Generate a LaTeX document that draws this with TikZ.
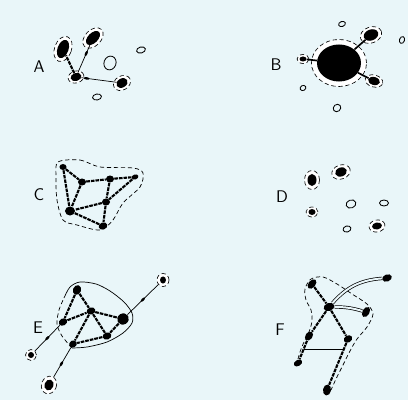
\documentclass[tikz,border=0pt]{standalone}
\usepackage{tikz}
\usetikzlibrary{shapes.geometric,decorations.markings}
\definecolor{bgcol}{RGB}{233,246,249}

\begin{document}
\begin{tikzpicture}[x=0.025cm, y=-0.025cm,
  sz/.style 2 args={minimum width=#1*0.25mm, minimum height=#2*0.25mm},
  cell/.style={ellipse, fill=black, inner sep=0pt},
  halo/.style={ellipse, draw, densely dashed, line width=0.45pt, fill=white, inner sep=0pt},
  ring/.style={ellipse, draw, line width=0.6pt, inner sep=0pt},
  chain/.style={line width=1.5pt, dash pattern=on 2.6pt off 0.7pt},
  link/.style={line width=0.5pt},
  bead/.style={postaction={decorate}, decoration={markings,
    mark=at position #1 with {\fill (0,0) ellipse (2pt and 0.9pt);}}},
  dbl/.style={line width=0.5pt, double=bgcol, double distance=1.4pt},
  hull/.style={densely dashed, line width=0.5pt},
  lbl/.style={font=\sffamily\large}]
\fill[bgcol] (0,0) rectangle (408,400);
\useasboundingbox (0,0) rectangle (408,400);

% A
\node[lbl] (la) at (39,67) {A};
\node[halo, sz={17}{26}, rotate=-20] (a1o) at (63,49) {};
\node[halo, sz={24}{16}, rotate=45] (a2o) at (93,38) {};
\node[halo, sz={16}{12}, rotate=15] (a3o) at (76,77) {};
\node[halo, sz={18}{14}, rotate=30] (a4o) at (122,83) {};
\node[cell, sz={11}{19}, rotate=-20] (a1) at (63,49) {};
\node[cell, sz={17}{10}, rotate=45] (a2) at (93,38) {};
\node[cell, sz={11}{8}, rotate=15] (a3) at (76,77) {};
\node[cell, sz={12}{9}, rotate=30] (a4) at (122,83) {};
\node[ring, sz={12}{14}, rotate=-20] (a5) at (110,63) {};
\node[ring, sz={9}{6}, rotate=15] (a6) at (141,50) {};
\node[ring, sz={9}{6}, rotate=10] (a7) at (97,97) {};
\draw[chain] (a3) -- (a1);
\draw[link, bead=0.7] (a3) -- (a2);
\draw[link, bead=0.15] (a3) -- (a4);

% B
\node[lbl] (lb) at (276,65) {B};
\node[halo, sz={55}{47}] (b1o) at (339,63) {};
\node[halo, sz={22}{16}, rotate=20] (b2o) at (371,35) {};
\node[halo, sz={18}{12}, rotate=-15] (b3o) at (374,81) {};
\node[halo, sz={12}{9}] (b4o) at (303,59) {};
\node[cell, sz={44}{37}] (b1) at (339,63) {};
\node[cell, sz={15}{11}, rotate=20] (b2) at (371,35) {};
\node[cell, sz={12}{8}, rotate=-15] (b3) at (374,81) {};
\node[cell, sz={7}{5}] (b4) at (303,59) {};
\node[ring, sz={7}{5}, rotate=20] (b5) at (342,24) {};
\node[ring, sz={5}{7}, rotate=-20] (b6) at (402,40) {};
\node[ring, sz={6}{5}, rotate=30] (b7) at (303,88) {};
\node[ring, sz={8}{7}, rotate=40] (b8) at (337,108) {};
\draw[line width=1.2pt] (b1) -- (b2);
\draw[line width=1.2pt] (b1) -- (b3);
\draw[line width=1.2pt] (b1) -- (b4);

% C
\node[lbl] (lc) at (39,195) {C};
\draw[hull] plot[smooth cycle] coordinates {(58,162) (80,160) (100,167) (133,168)
  (143,173) (140,187) (123,203) (113,220) (100,230) (77,225) (63,220) (57,200) (56,177)};
\node[cell, sz={7}{6}] (c1) at (63,167) {};
\node[cell, sz={8}{7}] (c2) at (82,182) {};
\node[cell, sz={8}{7}] (c3) at (110,179) {};
\node[cell, sz={7}{5}, rotate=20] (c4) at (135,177) {};
\node[cell, sz={8}{7}] (c5) at (106,202) {};
\node[cell, sz={10}{9}] (c6) at (70,211) {};
\node[cell, sz={9}{7}, rotate=20] (c7) at (103,226) {};
\draw[chain] (c1) -- (c2);
\draw[chain] (c1) -- (c6);
\draw[chain] (c2) -- (c3);
\draw[chain] (c3) -- (c4);
\draw[chain] (c2) -- (c6);
\draw[chain] (c3) -- (c5);
\draw[chain] (c4) -- (c5);
\draw[chain] (c5) -- (c6);
\draw[chain] (c6) -- (c7);
\draw[chain] (c5) -- (c7);

% D
\node[lbl] (ld) at (282,197) {D};
\node[halo, sz={15}{19}] (d1o) at (312,180) {};
\node[halo, sz={19}{14}, rotate=20] (d2o) at (341,172) {};
\node[halo, sz={12}{10}] (d3o) at (312,212) {};
\node[halo, sz={16}{12}, rotate=10] (d4o) at (377,226) {};
\node[cell, sz={9}{12}] (d1) at (312,180) {};
\node[cell, sz={12}{9}, rotate=20] (d2) at (341,172) {};
\node[cell, sz={7}{6}] (d3) at (312,212) {};
\node[cell, sz={10}{7}, rotate=10] (d4) at (377,226) {};
\node[ring, sz={10}{8}, rotate=20] (d5) at (351,204) {};
\node[ring, sz={9}{6}] (d6) at (384,203) {};
\node[ring, sz={8}{6}, rotate=15] (d7) at (347,229) {};

% E
\node[lbl] (le) at (38,328) {E};
\draw[link] plot[smooth] coordinates {(64,298) (70,287) (80,282) (96,284) (110,291)
  (124,302) (132,313) (132,323) (123,333) (107,342) (87,347) (72,348)};
\draw[hull] plot[smooth] coordinates {(72,348) (62,336) (57,324) (59,310) (64,298)};
\node[halo, sz={12}{13}] (e7o) at (163,280) {};
\node[halo, sz={11}{11}] (e8o) at (31,355) {};
\node[halo, sz={15}{18}, rotate=-20] (e9o) at (49,385) {};
\node[cell, sz={8}{10}, rotate=-20] (e1) at (77,290) {};
\node[cell, sz={9}{7}, rotate=20] (e2) at (91,311) {};
\node[cell, sz={9}{7}, rotate=30] (e3) at (63,322) {};
\node[cell, sz={12}{11}, rotate=30] (e4) at (123,319) {};
\node[cell, sz={9}{7}, rotate=20] (e5) at (107,336) {};
\node[cell, sz={8}{7}, rotate=30] (e6) at (73,344) {};
\node[cell, sz={6}{7}] (e7) at (163,280) {};
\node[cell, sz={6}{6}] (e8) at (31,355) {};
\node[cell, sz={9}{11}, rotate=-20] (e9) at (49,385) {};
\draw[chain] (e1) -- (e2);
\draw[chain] (e1) -- (e3);
\draw[chain] (e3) -- (e2);
\draw[chain] (e2) -- (e4);
\draw[chain] (e2) -- (e5);
\draw[chain] (e2) -- (e6);
\draw[chain] (e4) -- (e5);
\draw[chain] (e5) -- (e6);
\draw[link, bead=0.5] (e4) -- (e7o);
\draw[link, bead=0.5] (e3) -- (e8o);
\draw[link, bead=0.55] (e6) -- (e9o);

% F
\node[lbl] (lf) at (280,330) {F};
\draw[hull] plot[smooth] coordinates {(296,366) (300,352) (304,342) (309,332) (312,321)
  (311,310) (306,300) (305,289) (311,279) (323,277) (337,284) (352,294) (367,304)
  (373,314) (367,327) (357,339) (350,351) (343,365) (336,379) (331,390)};
\node[cell, sz={11}{7}, rotate=50] (f1) at (312,284) {};
\node[cell, sz={11}{8}, rotate=20] (f2) at (329,307) {};
\node[cell, sz={11}{7}, rotate=60] (f3) at (366,312) {};
\node[cell, sz={10}{7}, rotate=55] (f4) at (309,336) {};
\node[cell, sz={9}{7}, rotate=30] (f5) at (348,339) {};
\node[cell, sz={9}{6}, rotate=30] (f6) at (298,363) {};
\node[cell, sz={8}{11}, rotate=-10] (f7) at (327,390) {};
\node[cell, sz={10}{7}, rotate=20] (f8) at (387,278) {};
\coordinate (f46) at (304,349);
\coordinate (f57) at (344,349);
\draw[chain] (f1) -- (f2);
\draw[chain] (f2) -- (f4);
\draw[chain] (f2) -- (f5);
\draw[chain] (f4) -- (f6);
\draw[chain] (f5) -- (f7);
\draw[dbl] (f2) to[bend left=8] (f3);
\draw[dbl] (f2) to[bend left=22] (f8);
\draw[link] (f46) -- (f57);
\end{tikzpicture}
\end{document}
